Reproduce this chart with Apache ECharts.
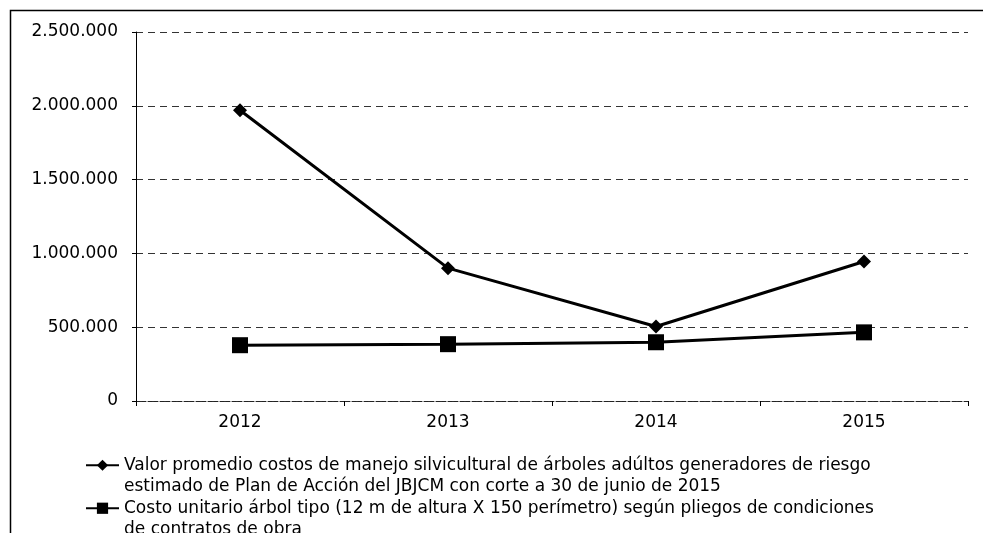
<!DOCTYPE html>
<html>
<head>
<meta charset="utf-8">
<script src="https://cdn.jsdelivr.net/npm/echarts@6/dist/echarts.min.js"></script>
<style>
html,body{margin:0;padding:0;background:#fff;}
#c{width:983px;height:533px;}
</style>
</head>
<body>
<div id="c"></div>
<script>
const categories = ['2012', '2013', '2014', '2015'];
const seriesPromedio = [1970000, 900000, 505000, 945000];
const seriesUnitario = [378000, 385000, 398000, 465000];
const yTicks = { min: 0, max: 2500000, interval: 500000 };
const nameA = 'Valor promedio costos de manejo silvicultural de árboles adúltos generadores de riesgo\nestimado de Plan de Acción del JBJCM con corte a 30 de junio de 2015';
const nameB = 'Costo unitario árbol tipo (12 m de altura X 150 perímetro) según pliegos de condiciones\nde contratos de obra';

function fmt(v) {
  return String(v).replace(/\B(?=(\d{3})+(?!\d))/g, '.');
}

const chart = echarts.init(document.getElementById('c'));
const font = 'DejaVu Sans';
chart.setOption({
  animation: false,
  backgroundColor: '#fff',
  graphic: [{
    type: 'rect',
    shape: { x: 10.5, y: 10.5, width: 1000, height: 600 },
    style: { fill: 'none', stroke: '#000', lineWidth: 1.5 },
    silent: true
  }],
  grid: { left: 136, right: 15, top: 32, bottom: 132, containLabel: false },
  legend: {
    orient: 'vertical',
    left: 80,
    top: 428,
    height: 200,
    itemWidth: 33,
    itemHeight: 14,
    itemGap: -21.5,
    data: [nameA, nameB],
    formatter: function (name) { return '\n' + name; },
    textStyle: {
      fontFamily: font, fontSize: 17, color: '#000',
      lineHeight: 21.5
    }
  },
  xAxis: {
    type: 'category',
    data: categories,
    boundaryGap: true,
    axisLine: { show: true, lineStyle: { color: '#222', type: 'dashed', width: 1 } },
    axisTick: { show: true, length: 5, lineStyle: { color: '#000' } },
    axisLabel: { fontFamily: font, fontSize: 17, color: '#000', margin: 13 }
  },
  yAxis: {
    type: 'value',
    min: yTicks.min, max: yTicks.max, interval: yTicks.interval,
    axisLine: { show: true, lineStyle: { color: '#000', width: 1 } },
    axisTick: { show: true, length: 4, lineStyle: { color: '#000' } },
    axisLabel: { fontFamily: font, fontSize: 17, color: '#000', margin: 18, formatter: fmt },
    splitLine: { show: true, lineStyle: { color: '#333', type: [7, 5], width: 1 } }
  },
  series: [
    {
      name: nameA, type: 'line', data: seriesPromedio,
      symbol: 'diamond', symbolSize: 14,
      lineStyle: { color: '#000', width: 3 },
      itemStyle: { color: '#000' }
    },
    {
      name: nameB, type: 'line', data: seriesUnitario,
      symbol: 'rect', symbolSize: 16,
      lineStyle: { color: '#000', width: 3 },
      itemStyle: { color: '#000' }
    }
  ]
});
</script>
</body>
</html>
